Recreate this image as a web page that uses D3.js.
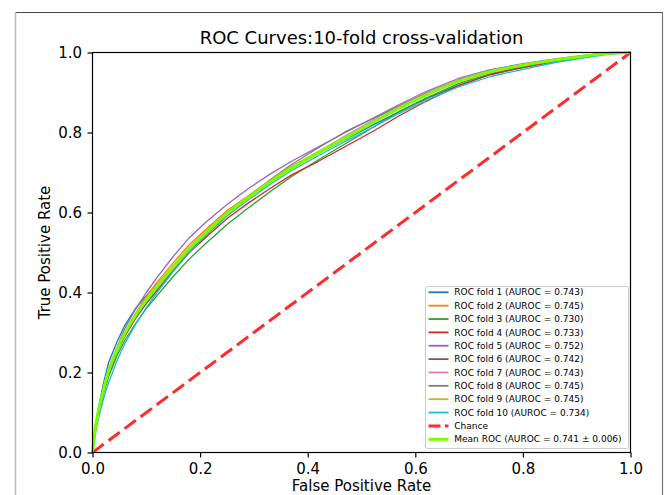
<!DOCTYPE html>
<html>
<head>
<meta charset="utf-8">
<script src="https://cdn.jsdelivr.net/npm/d3@7"></script>
<style>
	body { margin: 0; background: #fff; }
	text { font-family: "DejaVu Sans", sans-serif; fill: #000; }
</style>
</head>
<body>
<div id="chart-area"></div>
<script>
// shared false positive rate points for every fold
const fprGrid = [0, 0.005, 0.01, 0.02, 0.03, 0.045, 0.06, 0.08, 0.10, 0.12, 0.15, 0.18, 0.21, 0.25, 0.29, 0.33, 0.37, 0.42, 0.47, 0.52, 0.57, 0.62, 0.68, 0.74, 0.80, 0.86, 0.92, 0.96, 1.0];

const fold1 = [0, .060, .105, .170, .225, .275, .318, .360, .392, .420, .465, .508, .550, .600, .640, .676, .713, .748, .783, .818, .852, .884, .918, .945, .962, .978, .990, .997, 1];
const fold2 = [0, .050, .092, .152, .200, .252, .300, .348, .390, .426, .474, .520, .557, .605, .642, .680, .714, .751, .786, .823, .860, .893, .927, .952, .967, .981, .992, .998, 1];
const fold3 = [0, .055, .090, .145, .190, .240, .280, .322, .360, .392, .440, .484, .522, .570, .612, .652, .690, .732, .772, .812, .852, .886, .922, .947, .965, .980, .991, .998, 1];
const fold4 = [0, .050, .090, .148, .196, .250, .292, .336, .374, .406, .455, .500, .537, .585, .624, .660, .694, .728, .765, .802, .842, .878, .917, .945, .963, .978, .990, .997, 1];
const fold5 = [0, .062, .100, .160, .210, .262, .310, .358, .400, .438, .490, .537, .575, .620, .660, .696, .728, .764, .800, .835, .870, .902, .935, .957, .972, .984, .994, .999, 1];
const fold6 = [0, .065, .100, .152, .200, .250, .290, .335, .372, .405, .455, .502, .542, .592, .634, .675, .712, .750, .788, .826, .862, .896, .930, .953, .969, .982, .993, .998, 1];
const fold7 = [0, .055, .095, .155, .205, .255, .296, .340, .378, .410, .460, .506, .545, .594, .636, .676, .713, .752, .792, .830, .868, .900, .933, .955, .970, .983, .993, .998, 1];
const fold8 = [0, .052, .094, .150, .198, .250, .295, .340, .380, .414, .462, .508, .548, .598, .640, .682, .720, .762, .802, .834, .866, .897, .930, .953, .968, .981, .992, .998, 1];
const fold9 = [0, .058, .098, .158, .208, .258, .302, .346, .386, .420, .468, .514, .553, .602, .642, .680, .716, .753, .790, .826, .862, .895, .929, .953, .969, .982, .993, .998, 1];
const fold10 = [0, .045, .080, .132, .175, .228, .272, .320, .362, .400, .452, .500, .542, .592, .632, .670, .705, .742, .778, .812, .848, .880, .914, .940, .958, .975, .988, .996, 1];

const meanTpr = [0, .058, .097, .155, .204, .255, .298, .343, .381, .415, .463, .510, .548, .597, .637, .676, .711, .749, .786, .824, .861, .894, .928, .952, .968, .981, .992, .998, 1];

const foldAuc = [0.743, 0.745, 0.730, 0.733, 0.752, 0.742, 0.743, 0.745, 0.745, 0.734];
const foldColors = ["#1f77b4", "#ff7f0e", "#2ca02c", "#d62728", "#9467bd", "#8c564b", "#e377c2", "#7f7f7f", "#bcbd22", "#17becf"];
const chanceLabel = "Chance";
const meanLabel = "Mean ROC (AUROC = 0.741 \u00b1 0.006)";
const ticks = [0, 0.2, 0.4, 0.6, 0.8, 1.0];

const width = 665;
const height = 495;
const plot = {left: 92.5, right: 630.5, top: 52.5, bottom: 452.5};

var svg = d3.select("#chart-area").append("svg")
	.attr("width", width)
	.attr("height", height);

// screenshot frame around the figure
svg.append("line").attr("x1", 15).attr("x2", 663).attr("y1", 12.5).attr("y2", 12.5)
	.attr("stroke", "#444").attr("stroke-width", 1.2);
svg.append("line").attr("x1", 15.5).attr("x2", 15.5).attr("y1", 12).attr("y2", height)
	.attr("stroke", "#bbb").attr("stroke-width", 1.5);
svg.append("line").attr("x1", 662.5).attr("x2", 662.5).attr("y1", 12).attr("y2", height)
	.attr("stroke", "#777").attr("stroke-width", 1.2);

var x = d3.scaleLinear().domain([0, 1]).range([plot.left, plot.right]);
var y = d3.scaleLinear().domain([0, 1]).range([plot.bottom, plot.top]);

var folds = [fold1, fold2, fold3, fold4, fold5, fold6, fold7, fold8, fold9, fold10];

var line = d3.line()
	.x((d, i) => x(fprGrid[i]))
	.y(d => y(d));

svg.append("g").selectAll(".fold")
	.data(folds)
	.enter().append("path")
	.attr("class", "fold")
	.attr("fill", "none")
	.attr("stroke", (d, i) => foldColors[i])
	.attr("stroke-width", 1.3)
	.attr("stroke-linejoin", "round")
	.attr("d", line);

// chance diagonal
svg.append("path")
	.datum([0, 1])
	.attr("fill", "none")
	.attr("stroke", "#ff2a2a")
	.attr("stroke-width", 3)
	.attr("stroke-dasharray", "14,6")
	.attr("d", d3.line().x(d => x(d)).y(d => y(d)));

svg.append("path")
	.datum(meanTpr)
	.attr("fill", "none")
	.attr("stroke", "#7cfc00")
	.attr("stroke-width", 3)
	.attr("stroke-linejoin", "round")
	.attr("d", line.curve(d3.curveMonotoneX));

// axes
var xAxis = svg.append("g")
	.attr("transform", `translate(0,${plot.bottom})`)
	.call(d3.axisBottom(x).tickValues(ticks).tickFormat(d3.format(".1f")).tickSize(5).tickPadding(5.5));
var yAxis = svg.append("g")
	.attr("transform", `translate(${plot.left},0)`)
	.call(d3.axisLeft(y).tickValues(ticks).tickFormat(d3.format(".1f")).tickSize(5).tickPadding(5.5));

[xAxis, yAxis].forEach(function(g) {
	g.select(".domain").remove();
	g.selectAll("line").attr("stroke", "#000").attr("stroke-width", 1.2);
	g.selectAll("text").attr("font-family", "DejaVu Sans").attr("font-size", 15).attr("fill", "#000");
});

svg.append("rect")
	.attr("x", plot.left).attr("y", plot.top)
	.attr("width", plot.right - plot.left).attr("height", plot.bottom - plot.top)
	.attr("fill", "none").attr("stroke", "#000").attr("stroke-width", 1.2);

svg.append("text")
	.attr("x", (plot.left + plot.right) / 2).attr("y", 44)
	.attr("text-anchor", "middle")
	.attr("font-size", 18)
	.text("ROC Curves:10-fold cross-validation");

svg.append("text")
	.attr("x", (plot.left + plot.right) / 2).attr("y", 491)
	.attr("text-anchor", "middle")
	.attr("font-size", 15)
	.text("False Positive Rate");

svg.append("text")
	.attr("transform", `translate(50,${(plot.top + plot.bottom) / 2}) rotate(-90)`)
	.attr("text-anchor", "middle")
	.attr("font-size", 15)
	.text("True Positive Rate");

// legend
var entries = foldAuc.map((a, i) => ({label: `ROC fold ${i + 1} (AUROC = ${a.toFixed(3)})`, color: foldColors[i], w: 1.8, dash: null}));
entries.push({label: chanceLabel, color: "#ff2a2a", w: 3, dash: "12,4.5"});
entries.push({label: meanLabel, color: "#7cfc00", w: 3, dash: null});

var legend = svg.append("g");
legend.append("rect")
	.attr("x", 425.5).attr("y", 286.5)
	.attr("width", 203).attr("height", 162)
	.attr("rx", 2)
	.attr("fill", "#fff").attr("fill-opacity", 0.8)
	.attr("stroke", "#ccc");

var rows = legend.selectAll(".row")
	.data(entries)
	.enter().append("g")
	.attr("class", "row")
	.attr("transform", (d, i) => `translate(0,${292.3 + i * 13.36})`);

rows.append("line")
	.attr("x1", 428.5).attr("x2", 448.5)
	.attr("stroke", d => d.color)
	.attr("stroke-width", d => d.w)
	.attr("stroke-dasharray", d => d.dash);

rows.append("text")
	.attr("x", 454.3)
	.attr("dy", "0.35em")
	.attr("font-size", 9)
	.text(d => d.label);
</script>
</body>
</html>
